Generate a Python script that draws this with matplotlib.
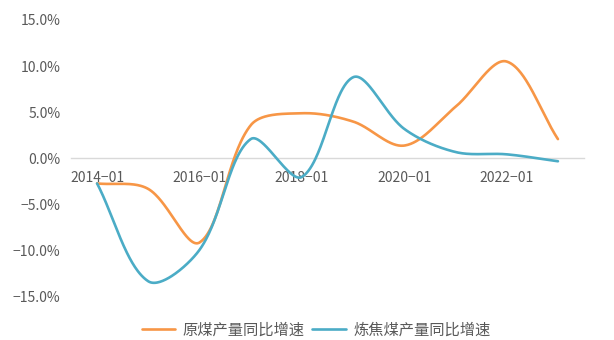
import numpy as np
import matplotlib
matplotlib.use("Agg")
import matplotlib.pyplot as plt
from matplotlib.ticker import FuncFormatter

plt.rcParams['font.family'] = ['Noto Sans CJK SC', 'DejaVu Sans']
plt.rcParams['axes.unicode_minus'] = True

years = ["2014-01", "2015-01", "2016-01", "2017-01", "2018-01",
         "2019-01", "2020-01", "2021-01", "2022-01", "2023-01"]
raw_coal = [-2.7, -3.3, -9.1, 3.6, 4.9, 4.0, 1.4, 5.6, 10.5, 2.1]
coking_coal = [-2.7, -13.3, -9.9, 2.1, -2.0, 8.8, 3.2, 0.7, 0.45, -0.3]
series_names = ["原煤产量同比增速", "炼焦煤产量同比增速"]
colors = ["#F79646", "#4BACC6"]

# approximate on-screen scale (pixels per category step / per percentage point)
SX, SY = 51.2, 9.23


def smooth(xs, ys, n=60):
    """Smoothed line through every point: cubic Bezier segments whose control
    arms are scaled by neighbouring segment lengths (measured on screen)."""
    p = np.column_stack([np.asarray(xs, float) * SX, np.asarray(ys, float) * SY])
    ext = np.vstack([p[0], p, p[-1]])
    d = np.linalg.norm(np.diff(ext, axis=0), axis=1)
    out = []
    t = np.linspace(0, 1, n)[:, None]
    for i in range(len(p) - 1):
        p0, p1, p2, p3 = ext[i], ext[i + 1], ext[i + 2], ext[i + 3]
        d01, d12, d23 = d[i], d[i + 1], d[i + 2]
        k1 = d12 / (d01 + d12) if d01 + d12 > 0 else 0
        k2 = d12 / (d12 + d23) if d12 + d23 > 0 else 0
        c1 = p1 + (p2 - p0) * k1 / 3.0
        c2 = p2 - (p3 - p1) * k2 / 3.0
        seg = ((1 - t) ** 3) * p1 + 3 * ((1 - t) ** 2) * t * c1 \
            + 3 * (1 - t) * t ** 2 * c2 + t ** 3 * p2
        out.append(seg if i == 0 else seg[1:])
    s = np.vstack(out)
    return s[:, 0] / SX, s[:, 1] / SY


fig = plt.figure(figsize=(6.14, 3.40), dpi=100)
ax = fig.add_axes([0.1164, 0.1265, 0.834, 0.8147])

x = np.arange(len(years))
for vals, name, c in zip([raw_coal, coking_coal], series_names, colors):
    sx, sy = smooth(x, vals)
    ax.plot(sx, sy, color=c, lw=1.9, label=name, solid_capstyle='round')

ax.set_xlim(-0.5, len(years) - 0.5)
ax.set_ylim(-15, 15)
ax.set_yticks([-15, -10, -5, 0, 5, 10, 15])
ax.yaxis.set_major_formatter(FuncFormatter(lambda v, _: f"{v:.1f}%".replace("-", "\u2212")))
ax.set_xticks(x[::2])
ax.set_xticklabels([years[i].replace("-", "\u2212") for i in x[::2]])

for side in ['left', 'right', 'top']:
    ax.spines[side].set_visible(False)
ax.spines['bottom'].set_position(('data', 0))
ax.spines['bottom'].set_color('#D9D9D9')
ax.spines['bottom'].set_linewidth(1.0)
ax.spines['bottom'].set_zorder(0)

ax.tick_params(axis='x', length=0, pad=9, labelsize=10, labelcolor='#595959')
ax.tick_params(axis='y', length=0, pad=8, labelsize=10, labelcolor='#595959')

fig.legend(loc='center', bbox_to_anchor=(0.515, 0.03), ncol=2, frameon=False,
           fontsize=11, handlelength=2.2, columnspacing=0.5, handletextpad=0.5,
           labelcolor='#595959')

fig.savefig("out.png", dpi=100)
